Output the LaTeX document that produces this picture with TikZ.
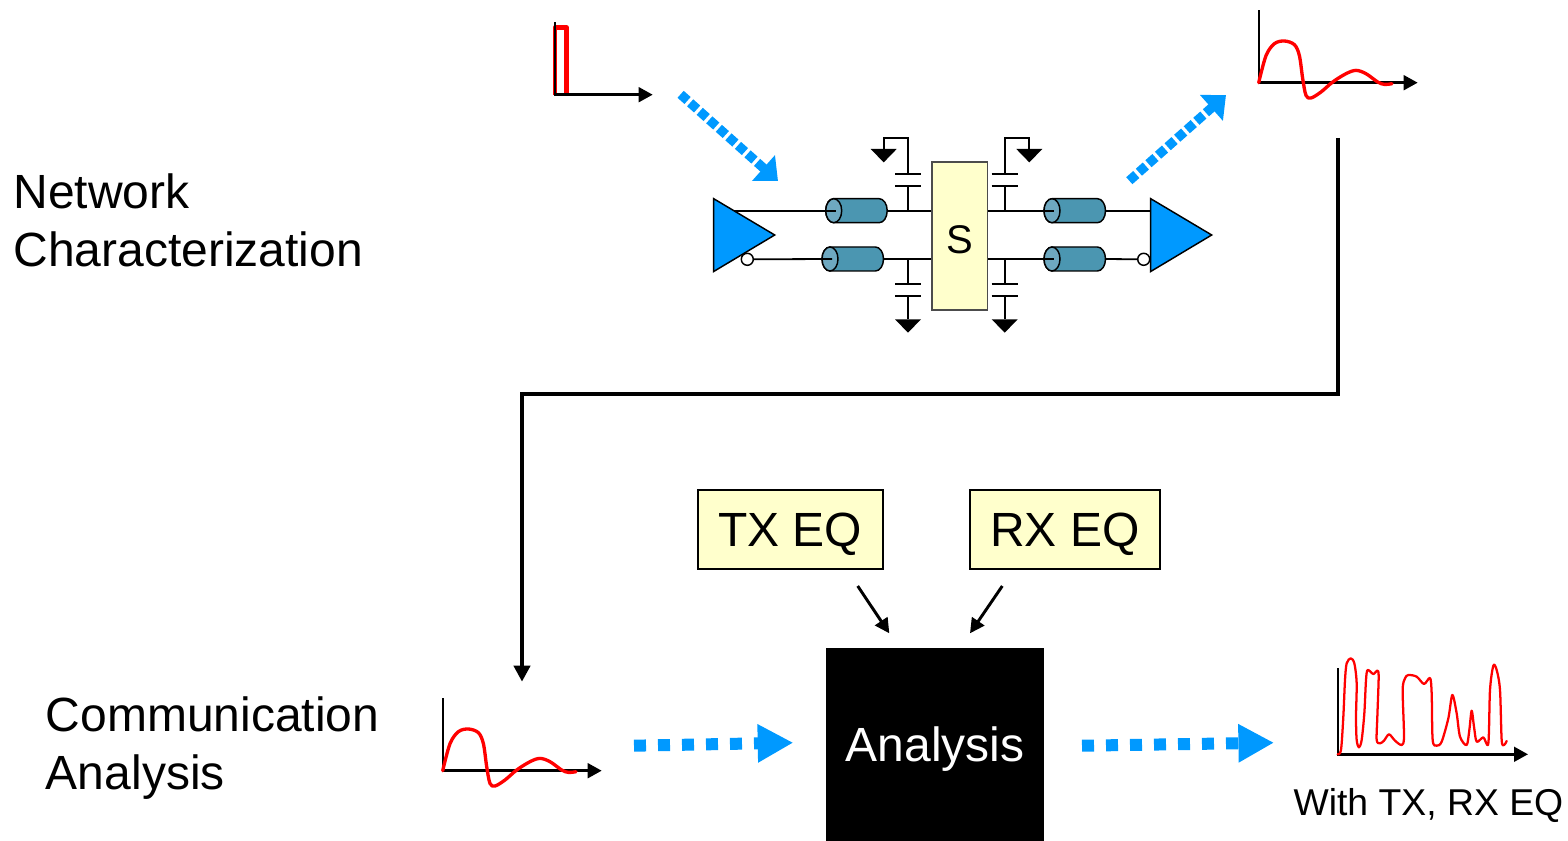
\documentclass[tikz,border=0pt]{standalone}
\usepackage{fontspec}
\setmainfont{Liberation Sans}
\usetikzlibrary{arrows.meta}
\definecolor{blu}{HTML}{0099FF}
\definecolor{ybox}{HTML}{FFFFCC}
\definecolor{cylb}{HTML}{4B96B1}
\definecolor{cyle}{HTML}{6EA8C0}
\tikzset{
  bigtext/.style={font=\fontsize{36pt}{43.5pt}\selectfont,inner sep=0pt},
  smalltext/.style={font=\fontsize{28pt}{34pt}\selectfont,inner sep=0pt},
  eqbox/.style={draw=black,line width=1.4pt,fill=ybox,inner sep=0pt,minimum height=59.5pt,text height=26pt,text depth=0pt,font=\fontsize{36pt}{43.5pt}\selectfont},
  axisline/.style={line width=2pt,-{Triangle[length=10.5pt,width=11pt]}},
  vaxis/.style={line width=1.6pt},
  wire/.style={line width=1.35pt},
  bubble/.style={circle,draw=black,fill=white,line width=1.1pt,inner sep=0pt,minimum size=9pt},
  tridrv/.style={draw=black,fill=blu,line width=1.1pt,line join=miter},
  bluediag/.style={blu,line width=7pt,dash pattern=on 7pt off 2.6pt,-{Triangle[length=14.6pt,width=25pt]}},
  bluehor/.style={blu,line width=9pt,dash pattern=on 9pt off 9pt,-{Triangle[length=26.7pt,width=27pt]}},
  redwave/.style={red,line width=2.5pt,line cap=round,line join=round},
  eqarrow/.style={line width=2.2pt,-{Triangle[length=11pt,width=11pt]}},
  cylb/.pic={
    \path[draw=black,fill=cylb,line width=1.1pt] (0,-12)--(45.5,-12) arc[start angle=90,end angle=-90,x radius=6pt,y radius=9pt] -- (0,12) arc[start angle=270,end angle=90,x radius=6pt,y radius=9pt] -- cycle;
    \path[draw=black,fill=cyle,line width=1.1pt] (0,0) ellipse[x radius=6pt,y radius=9pt];
    \coordinate (-in) at (2,0);
    \coordinate (-out) at (53.5,0);
  },
  gnd/.pic={\path[fill=black] (-13,0)--(13,0)--(0,13.4)--cycle;},
  capv/.pic={
    \draw[line width=1.35pt] (-13,-6)--(13,-6) (-13,6)--(13,6);
    \coordinate (-t) at (0,-6);
    \coordinate (-b) at (0,6);
  },
  wave/.pic={
    \draw[vaxis] (0,0)--(0,-73);
    \draw[axisline] (0,0)--(159,0);
    \draw[redwave] plot[smooth,tension=.55] coordinates {(0,0)(7.3,-27)(15.7,-39)(25.7,-41.7)(35.7,-38)(40.7,-27)(44,-4)(47.3,12.7)(52.3,15.3)(62.3,9.3)(74,-.7)(87.3,-9)(97.3,-12.3)(107.3,-9)(119,-.7)(125.7,1.7)(133.3,1)};
  }
}
\begin{document}
\begin{tikzpicture}[x=.75pt,y=-.75pt]
\useasboundingbox (0,0) rectangle (1568,841);

% texts
\node[bigtext,align=left,anchor=west] (nc) at (13.3,220) {Network\\Characterization};
\node[bigtext,align=left,anchor=west] (ca) at (45.7,748) {Communication\\Analysis};
\node[smalltext,anchor=base west] (wt) at (1293.3,815.5) {With TX, RX EQ};

% input pulse
\draw[red,line width=3.2pt,line join=round] (555,95)--(555,27.5)--(566.5,27.5)--(566.5,95);
\draw[vaxis] (554.7,94.7)--(554.7,22);
\draw[axisline] (554,94.7)--(652.7,94.7);

% output wave top
\pic (w1) at (1258.7,82.7) {wave};
% input wave bottom
\pic (w2) at (442.7,770.7) {wave};

% eye waveform
\draw[vaxis] (1337.7,754.3)--(1337.7,668.3);
\draw[axisline] (1337,754.3)--(1528,754.3);
\begin{scope}[shift={(1320,650)},x=.25pt,y=-.25pt]
\draw[red,line width=1.7pt,line join=round,line cap=round] plot[smooth,tension=.5] coordinates {(53,313)(63,300)(70,200)(75,90)(80,40)(92,25)(103,40)(110,100)(108,200)(110,270)(117,292)(125,270)(133,190)(138,90)(143,60)(160,72)(172,62)(176,80)(172,200)(170,270)(180,280)(192,272)(207,253)(225,272)(245,285)(252,260)(248,120)(255,85)(265,75)(290,80)(312,102)(330,84)(335,130)(338,270)(350,287)(365,275)(385,205)(397,135)(410,190)(420,260)(440,285)(448,240)(455,182)(462,230)(470,275)(490,262)(505,280)(510,120)(520,47)(530,60)(540,120)(545,270)(552,285)(560,273)};
\end{scope}

% S block
\node[draw=black!70,fill=ybox,line width=1.2pt,minimum width=41.6pt,minimum height=111pt,inner sep=0pt,text height=27pt,text depth=0pt,font=\fontsize{30pt}{34pt}\selectfont] (s) at (959.7,236) {S};

% drivers
\path[tridrv] (713.7,198.7)--(713.7,271.5)--(774.7,235)--cycle;
\path[tridrv] (1150.7,198.7)--(1150.7,271.5)--(1211.7,235)--cycle;
\coordinate (d1t) at (734,210.7);
\coordinate (d2t) at (1150.7,210.7);
\node[bubble] (b1) at (747.3,259.3) {};
\node[bubble] (b2) at (1143.7,259.3) {};

% cylinders
\pic (c1) at (833.7,210.7) {cylb};
\pic (c2) at (830,259) {cylb};
\pic (c3) at (1052,210.7) {cylb};
\pic (c4) at (1052,259) {cylb};

% wires
\draw[wire] (d1t)--(c1-in);
\draw[wire] (b1.east)--(c2-in);
\draw[wire] (c1-out)--(s.west |- c1-out);
\draw[wire] (c2-out)--(s.west |- c2-out);
\draw[wire] (s.east |- c3-in)--(c3-in);
\draw[wire] (s.east |- c4-in)--(c4-in);
\draw[wire] (c3-out)--(d2t);
\draw[wire] (c4-out)--(b2.west);

% capacitors
\pic (k1) at (908,180) {capv};
\pic (k2) at (908,289.7) {capv};
\pic (k3) at (1004.7,180.3) {capv};
\pic (k4) at (1004.7,289.7) {capv};
\coordinate (j1) at (908,210.7);
\coordinate (j2) at (908,259);
\coordinate (j3) at (1004.7,210.7);
\coordinate (j4) at (1004.7,259);
\coordinate (g1) at (883.7,149);
\coordinate (g2) at (908,319.3);
\coordinate (g3) at (1029.3,149);
\coordinate (g4) at (1004.7,319.3);
\coordinate (u1) at (908,137.7);
\coordinate (u3) at (1004.7,137.7);
\draw[wire] (j1)--(k1-b);
\draw[wire] (j2)--(k2-t);
\draw[wire] (j3)--(k3-b);
\draw[wire] (j4)--(k4-t);
\draw[wire] (k1-t)--(u1)-|(g1);
\draw[wire] (k3-t)--(u3)-|(g3);
\draw[wire] (k2-b)--(g2);
\draw[wire] (k4-b)--(g4);
\pic at (g1) {gnd};
\pic at (g2) {gnd};
\pic at (g3) {gnd};
\pic at (g4) {gnd};

% diagonal blue arrows
\coordinate (a1s) at (680.6,94.3);
\coordinate (a1e) at (778,181);
\coordinate (a2s) at (1129.3,180.7);
\coordinate (a2e) at (1226,95);
\draw[bluediag] (a1s)--(a1e);
\draw[bluediag] (a2s)--(a2e);

% long connector
\coordinate (ls) at (1338,138);
\coordinate (lm) at (522,394);
\coordinate (le) at (522,681.7);
\draw[line width=3pt,line join=miter,-{Triangle[length=12pt,width=12pt]}] (ls)|-(lm)--(le);

% EQ boxes, analysis
\node[eqbox,minimum width=139pt] (tx) at (790.3,529.3) {TX EQ};
\node[eqbox,minimum width=143pt] (rx) at (1065,529.3) {RX EQ};
\node[fill=black,text=white,inner sep=0pt,minimum width=163.5pt,minimum height=144.8pt,text height=26pt,text depth=0pt,font=\fontsize{36pt}{43.5pt}\selectfont] (an) at (935,744.5) {Analysis};

\coordinate (t1) at (857.7,586);
\coordinate (t2) at (889.3,633.3);
\coordinate (r1) at (1002.3,586);
\coordinate (r2) at (970,633.3);
\draw[eqarrow] (t1)--(t2);
\draw[eqarrow] (r1)--(r2);

% horizontal blue arrows
\coordinate (h1s) at (634,745.7);
\coordinate (h1e) at (793.3,742.7);
\coordinate (h2s) at (1082,745.7);
\coordinate (h2e) at (1274,742.7);
\draw[bluehor] (h1s)--(h1e);
\draw[bluehor] (h2s)--(h2e);
\end{tikzpicture}
\end{document}
